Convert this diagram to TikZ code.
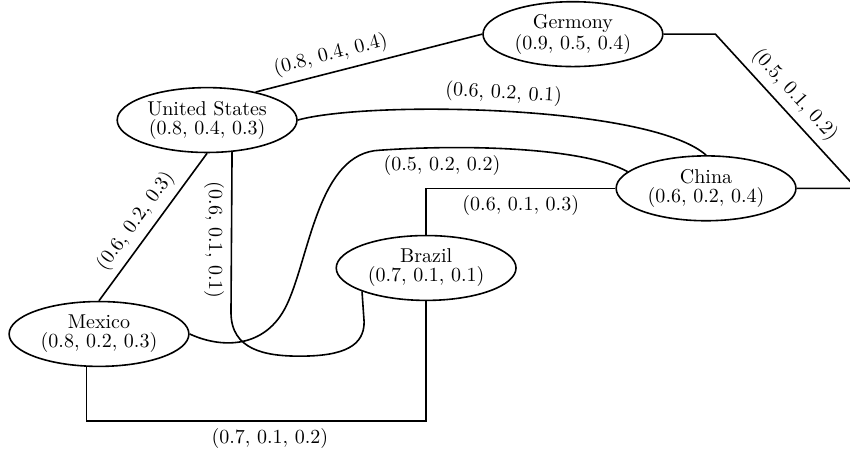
\documentclass[tikz,border=0pt]{standalone}
\usetikzlibrary{shapes.geometric}

\begin{document}
\begin{tikzpicture}[
	country/.style={ellipse,draw,thick,inner sep=0pt,
		minimum width=3.16cm,minimum height=1.14cm,
		align=center,font=\fontsize{10pt}{9.5pt}\selectfont},
	link/.style={thick}
]

\useasboundingbox (0,0) rectangle (14.94,7.93);

\node [country] (ge) at (10.07,7.33) {Germony\\$(0.9,\,0.5,\,0.4)$};
\node [country] (us) at (3.64, 5.82) {United States\\$(0.8,\,0.4,\,0.3)$};
\node [country] (ch) at (12.41,4.62) {China\\$(0.6,\,0.2,\,0.4)$};
\node [country] (br) at (7.49, 3.22) {Brazil\\$(0.7,\,0.1,\,0.1)$};
\node [country] (mx) at (1.74, 2.06) {Mexico\\$(0.8,\,0.2,\,0.3)$};

%%%%%%%%%%%%%%%%%%%%%%%%%%%%%%%%%%%%%%%%%%

\draw [link] (us.30) to node [sloped,above,pos=0.35] {$(0.8,\,0.4,\,0.4)$} (ge.west);

\draw [link] (us.south) to node [sloped,above,pos=0.53] {$(0.6,\,0.2,\,0.3)$} (mx.north);

\draw [link] (us.east)
	.. controls (6.50,6.17) and (11.42,6.08) .. node [sloped,above,pos=0.49] {$(0.6,\,0.2,\,0.1)$}
	(ch.north);

%%%%%%%%%%%%%%%%%%%%%%%%%%%%%%%%%%%%%%%%%%

\draw [link] (us.-52)
	to node [rotate=-90,below,pos=0.55] {$(0.6,\,0.1,\,0.1)$} (4.06,2.44)
	.. controls (4.06,1.78) and (4.66,1.67) .. (5.27,1.67)
	.. controls (6.06,1.67) and (6.40,1.86) .. (6.40,2.27)
	to (br.south west);

\draw [link] (mx.east)
	.. controls (3.87,1.81) and (4.66,1.78) .. (5.04,2.57)
	.. controls (5.45,3.44) and (5.59,5.25) .. (6.68,5.29)
	.. controls (8.26,5.40) and (10.28,5.33) .. node [below,pos=0.22] {$(0.5,\,0.2,\,0.2)$}
	(ch.168);

%%%%%%%%%%%%%%%%%%%%%%%%%%%%%%%%%%%%%%%%%%

\draw [link] (br.north) |- node [below,pos=0.75] {$(0.6,\,0.1,\,0.3)$} (ch.west);

\draw [link] (mx.-111) to ++(0,-0.95) -| node [below,pos=0.27] {$(0.7,\,0.1,\,0.2)$} (br.south);

\draw [link] (ge.east) to ++(0.91,0)
	to node [sloped,above,pos=0.47] {$(0.5,\,0.1,\,0.2)$} ([xshift=1.05cm]ch.east)
	to (ch.east);

\end{tikzpicture}
\end{document}
